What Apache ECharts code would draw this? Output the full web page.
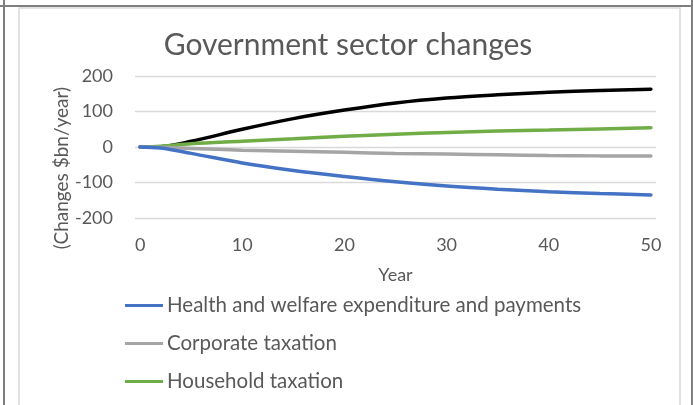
<!DOCTYPE html>
<html>
<head>
<meta charset="utf-8">
<script src="https://cdn.jsdelivr.net/npm/echarts@6/dist/echarts.min.js"></script>
<style>
  html, body { margin: 0; padding: 0; background: #fff; }
  #main { width: 693px; height: 405px; }
</style>
</head>
<body>
<div id="main"></div>
<script>
// values, $bn/year
var years = [0, 2, 5, 10, 15, 20, 25, 30, 35, 40, 45, 50];
var health = [0, -3, -18, -45, -66, -83, -98, -110, -119, -126, -131, -135];
var corporate = [0, -1, -4, -9, -12, -15, -18, -20, -22, -24, -25, -25];
var household = [0, 2, 9, 16, 23, 30, 36, 41, 45, 48, 51, 54];
var total = [0, 1, 16, 50, 80, 104, 124, 138, 147, 154, 159, 163];
var xTicks = [0, 10, 20, 30, 40, 50];

var textColor = '#595959';
var font = 'Lato';

function pairs(arr) {
  return years.map(function (y, i) { return [y, arr[i]]; });
}

function line(name, color, arr) {
  return {
    name: name,
    type: 'line',
    data: pairs(arr),
    smooth: 0.35,
    showSymbol: false,
    symbol: 'none',
    lineStyle: { color: color, width: 3.5, cap: 'round' },
    itemStyle: { color: color }
  };
}

var chart = echarts.init(document.getElementById('main'));

var option = {
  animation: false,
  backgroundColor: '#fff',
  title: {
    text: 'Government sector changes',
    left: 343,
    top: 25,
    textAlign: 'center',
    textStyle: { color: textColor, fontFamily: font, fontSize: 30, fontWeight: 'normal' }
  },
  grid: { left: 135, right: 37, top: 76, bottom: 187, containLabel: false, outerBoundsMode: 'none' },
  xAxis: {
    type: 'value',
    min: -0.5,
    max: 50.5,
    name: 'Year',
    nameLocation: 'middle',
    nameGap: 48,
    nameTextStyle: { color: textColor, fontFamily: font, fontSize: 18 },
    axisLine: { show: false },
    axisTick: { show: false },
    splitLine: { show: false },
    axisLabel: {
      customValues: xTicks,
      color: textColor,
      fontFamily: font,
      fontSize: 18,
      margin: 18
    }
  },
  yAxis: {
    type: 'value',
    min: -200,
    max: 200,
    interval: 100,
    axisLine: { show: false },
    axisTick: { show: false },
    splitLine: { lineStyle: { color: '#d9d9d9', width: 1.3 } },
    axisLabel: { color: textColor, fontFamily: font, fontSize: 18, margin: 22, align: 'right' }
  },
  legend: {
    data: ['Health and welfare expenditure and payments', 'Corporate taxation', 'Household taxation'],
    orient: 'vertical',
    left: 125,
    top: 294,
    padding: 0,
    icon: 'rect',
    itemWidth: 38,
    itemHeight: 3,
    itemGap: 15,
    textStyle: { color: textColor, fontFamily: font, fontSize: 20.5, lineHeight: 23, padding: [0, 0, 0, -1] }
  },
  graphic: [
    { type: 'rect', z: -10, shape: { x: 19, y: 8, width: 661, height: 420 },
      style: { fill: 'none', stroke: '#d9d9d9', lineWidth: 1.5 } },
    { type: 'line', z: 10, shape: { x1: 0, y1: 6, x2: 693, y2: 6 },
      style: { stroke: '#7f7f7f', lineWidth: 2 } },
    { type: 'line', z: 10, shape: { x1: 4, y1: 0, x2: 4, y2: 405 },
      style: { stroke: '#7f7f7f', lineWidth: 2 } },
    { type: 'line', z: 10, shape: { x1: 692, y1: 0, x2: 692, y2: 405 },
      style: { stroke: '#7f7f7f', lineWidth: 2 } },
    { type: 'text', x: 62, y: 168, rotation: Math.PI / 2,
      style: { text: '(Changes $bn/year)', fill: textColor, font: '19px Lato',
               textAlign: 'center', textVerticalAlign: 'middle' } }
  ],
  series: [
    line('Total', '#000000', total),
    line('Household taxation', '#70ad47', household),
    line('Corporate taxation', '#a5a5a5', corporate),
    line('Health and welfare expenditure and payments', '#4472c4', health)
  ]
};

chart.setOption(option);
</script>
</body>
</html>
